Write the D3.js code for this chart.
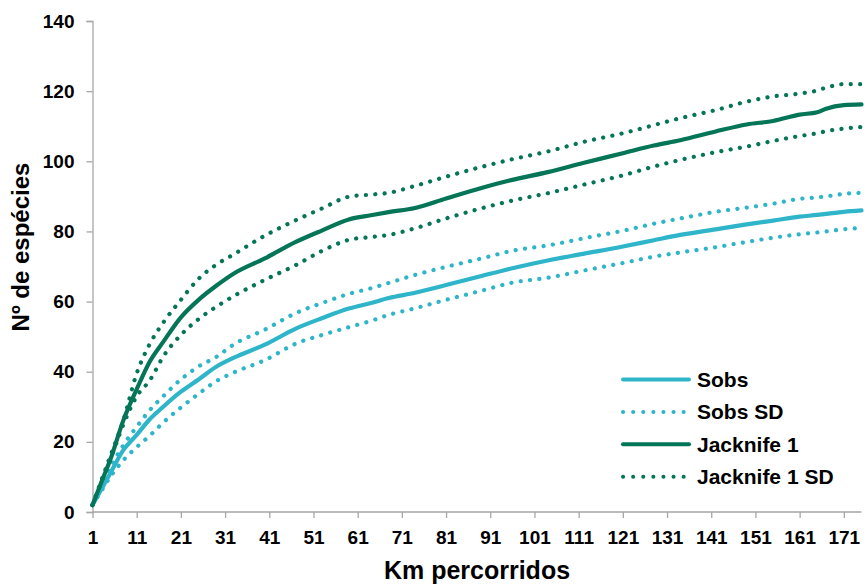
<!DOCTYPE html>
<html>
<head>
<meta charset="utf-8">
<script src="https://cdn.jsdelivr.net/npm/d3@7"></script>
<style>
    body { margin: 0; background: #fff; }
    text { font-family: "Liberation Sans", Arial, sans-serif; font-weight: bold; fill: #000; }
</style>
</head>
<body>
<div id="chart"></div>
<script>
var km = [1, 3, 5, 8, 11, 14, 17, 21, 25, 29, 33, 40, 47, 53, 59, 64, 68, 74, 81, 89, 96, 104, 112, 121, 128, 134, 142, 149, 155, 161, 165, 167, 171, 175];

var sobs =      [2, 6.5, 11, 17.7, 22, 26.5, 30, 34.3, 37.8, 41.4, 44, 47.7, 52.3, 55.3, 58, 59.6, 61, 62.5, 64.7, 67.3, 69.5, 71.7, 73.6, 75.7, 77.5, 79, 80.6, 82, 83.1, 84.2, 84.7, 85, 85.6, 86];
var sobsHi =    [2, 7.5, 12.5, 19.1, 24.3, 29.1, 33, 37.8, 41.5, 44.2, 47.8, 52, 56.7, 59.6, 62.2, 63.8, 65.3, 67.6, 69.9, 72.3, 74.5, 76, 78, 80.2, 82.2, 83.7, 85.6, 86.8, 87.9, 89.3, 89.7, 90, 90.7, 91];
var sobsLo =    [2, 6, 10, 14.8, 18.5, 21.8, 25.5, 29.8, 33.7, 37.3, 39.8, 43.3, 48, 50.5, 52.7, 54.5, 56.2, 58.1, 60.5, 63.1, 65.4, 66.8, 68.8, 71, 72.8, 74, 75.5, 77, 78.2, 79.2, 79.7, 80, 80.6, 81];
var jack =      [2, 8.5, 14.8, 26.2, 35, 43, 48.5, 55.5, 60.5, 64.5, 68, 72.3, 77, 80.3, 83.4, 84.6, 85.5, 86.7, 89.4, 92.4, 94.7, 96.9, 99.5, 102.3, 104.5, 106, 108.5, 110.5, 111.5, 113.3, 114, 115, 116, 116.2];
var jackHi =    [2, 9, 15.8, 26.2, 39.5, 48, 54, 60.5, 66.5, 70.5, 73.5, 78.8, 83.2, 86.6, 89.9, 90.5, 91, 93, 95.6, 98.4, 100.6, 102.8, 105.5, 108, 110.3, 112.3, 114.6, 117, 118.5, 119.3, 120.2, 121, 122, 122];
var jackLo =    [2, 8.5, 14.8, 25, 33, 37.6, 44.3, 50.5, 55, 58.5, 61.6, 66.2, 70.4, 74.5, 77.6, 78.4, 79, 80.9, 83.7, 86.6, 88.8, 90.9, 93.3, 96, 98.5, 100.4, 102.6, 104.2, 105.8, 107.2, 108, 108.6, 109.3, 109.8];

var xTicks = [1, 11, 21, 31, 41, 51, 61, 71, 81, 91, 101, 111, 121, 131, 141, 151, 161, 171];
var yTicks = [0, 20, 40, 60, 80, 100, 120, 140];

var legendNames = ["Sobs", "Sobs SD", "Jacknife 1", "Jacknife 1 SD"];

var teal = "#2eb5c9", green = "#057558";

var series = [
    {values: sobsLo, color: teal, dotted: true},
    {values: sobsHi, color: teal, dotted: true},
    {values: sobs, color: teal, dotted: false},
    {values: jackLo, color: green, dotted: true},
    {values: jackHi, color: green, dotted: true},
    {values: jack, color: green, dotted: false}
];

var width = 864, height = 585;
var svg = d3.select("#chart").append("svg")
    .attr("width", width)
    .attr("height", height);

var x = d3.scaleLinear().domain([1, 175]).range([92.5, 861.5]);
var y = d3.scaleLinear().domain([0, 140]).range([512, 21]);

//axes
var xAxis = svg.append("g")
    .attr("transform", "translate(0,512)")
    .call(d3.axisBottom(x).tickValues(xTicks).tickSize(6).tickPadding(13).tickFormat(d3.format("d")));
var yAxis = svg.append("g")
    .attr("transform", "translate(92.5,0)")
    .call(d3.axisLeft(y).tickValues(yTicks).tickSize(6).tickPadding(12));

[xAxis, yAxis].forEach(function(a) {
    a.select(".domain").attr("stroke", "#a6a6a6").attr("stroke-width", 1.3);
    a.selectAll(".tick line").attr("stroke", "#a6a6a6").attr("stroke-width", 1.3);
    a.selectAll(".tick text")
        .style("font-family", "'Liberation Sans', Arial, sans-serif")
        .style("font-weight", "bold")
        .style("font-size", "19px")
        .attr("fill", "#000");
});
xAxis.select(".domain").attr("d", "M92.5,0H861.5");

//lines
var line = d3.line()
    .x(function(d, i) { return x(km[i]); })
    .y(function(d) { return y(d); })
    .curve(d3.curveMonotoneX);

svg.append("g").selectAll("path")
    .data(series)
    .enter().append("path")
    .attr("d", function(d) { return line(d.values); })
    .attr("fill", "none")
    .attr("stroke", function(d) { return d.color; })
    .attr("stroke-width", function(d) { return d.dotted ? 4.2 : 4.2; })
    .attr("stroke-linecap", "round")
    .attr("stroke-linejoin", "round")
    .attr("stroke-dasharray", function(d) { return d.dotted ? "0.1 9.3" : null; });

//axis titles
svg.append("text")
    .attr("x", 477)
    .attr("y", 579)
    .attr("text-anchor", "middle")
    .style("font-size", "25px")
    .text("Km percorridos");

svg.append("text")
    .attr("transform", "translate(29,247) rotate(-90)")
    .attr("text-anchor", "middle")
    .style("font-size", "24px")
    .text("Nº de espécies");

//legend
var legendStyle = [
    {color: teal, dotted: false},
    {color: teal, dotted: true},
    {color: green, dotted: false},
    {color: green, dotted: true}
];
var legend = svg.append("g").selectAll("g")
    .data(legendNames)
    .enter().append("g")
    .attr("transform", function(d, i) { return "translate(0," + (379.5 + i * 32.4) + ")"; });

legend.append("line")
    .attr("x1", 623).attr("x2", 689)
    .attr("stroke", function(d, i) { return legendStyle[i].color; })
    .attr("stroke-width", 4)
    .attr("stroke-linecap", "round")
    .attr("stroke-dasharray", function(d, i) { return legendStyle[i].dotted ? "0.1 10" : null; });

legend.append("text")
    .attr("x", 697)
    .attr("dy", "0.35em")
    .style("font-size", "21px")
    .text(function(d) { return d; });
</script>
</body>
</html>
